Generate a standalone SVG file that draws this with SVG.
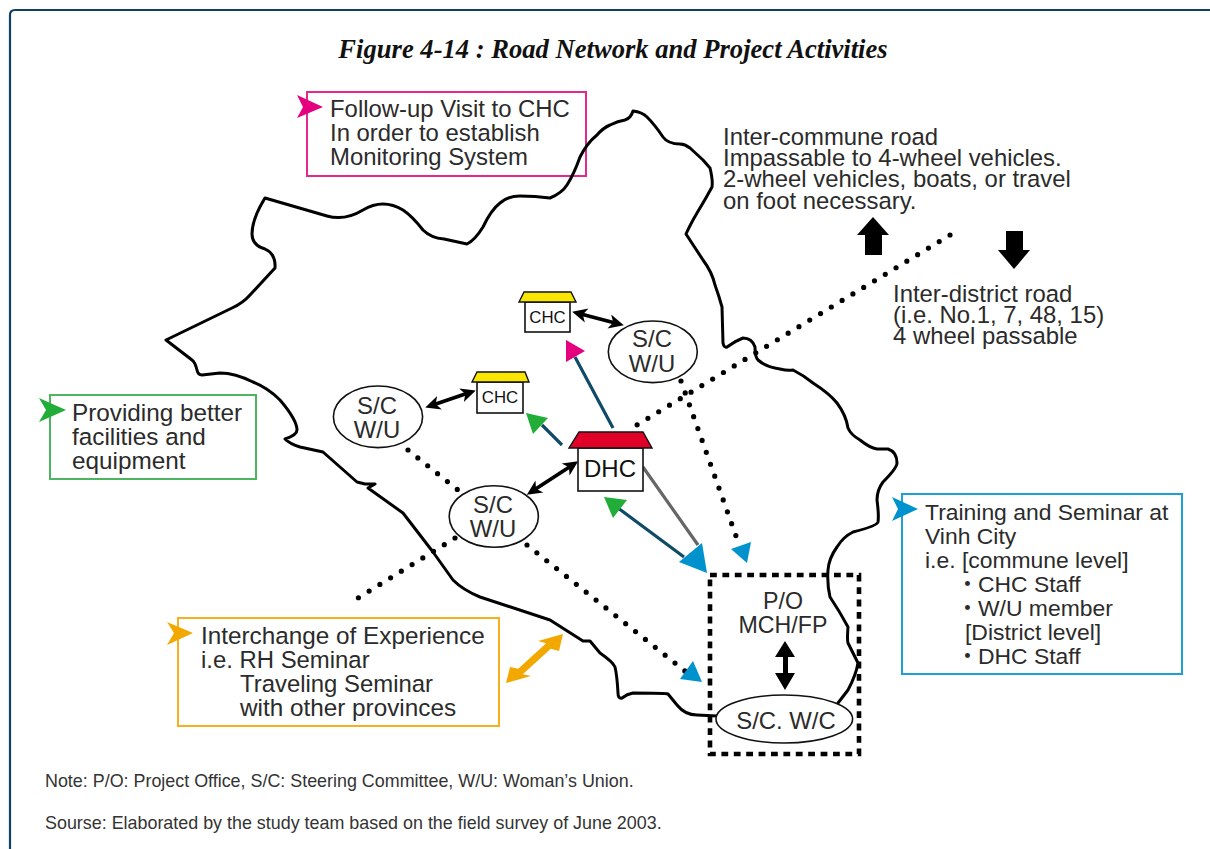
<svg xmlns="http://www.w3.org/2000/svg" width="1210" height="849" viewBox="0 0 1210 849">
<style>
text{font-family:"Liberation Sans","Noto Sans CJK JP",sans-serif;fill:#2b2b2b;font-size:23.9px}
.title{font-family:"Liberation Serif",serif;font-weight:bold;font-style:italic;font-size:26.6px;fill:#111;text-anchor:middle}
.note{font-size:17.9px;fill:#333}
.m{text-anchor:middle}
.small{font-size:16.8px;text-anchor:middle;fill:#111}
.big{font-size:24px;fill:#111}
.f23{font-size:22.9px}
.f24{font-size:24.3px}
.po{font-size:23.2px}
.box{fill:#fff;stroke-width:2}
.node{fill:#fff;stroke:#111;stroke-width:1.6}
.roof{stroke:#111;stroke-width:1.4}
.dots{fill:none;stroke:#000;stroke-width:5.2;stroke-linecap:round;stroke-dasharray:0 12.62}
.shaft{fill:none;stroke:#0f4a66;stroke-width:3.2}
.dbl{fill:none;stroke:#000;stroke-width:3.8;marker-start:url(#bi);marker-end:url(#bi)}
.boundary{fill:none;stroke:#000;stroke-width:3;stroke-linejoin:round;stroke-linecap:round}
</style>
<defs>
<marker id="bi" markerUnits="userSpaceOnUse" markerWidth="18" markerHeight="18" viewBox="0 -9 16 18" refX="10" refY="0" orient="auto-start-reverse"><path d="M15 0L0-7.2 4 0 0 7.2Z" fill="#000"/></marker>
</defs>
<rect width="1210" height="849" fill="#fff"/>
<path id="frame" d="M10 849V15Q10 10 15 10H1210" fill="none" stroke="#0f4060" stroke-width="2.2"/>
<text class="title" x="613" y="58">Figure 4-14 : Road Network and Project Activities</text>

<g id="box-followup">
<rect class="box" x="307" y="92" width="279" height="84" stroke="#e6278c"/>
<polygon points="323,107 297,95 303,107 297,118" fill="#e4007f"/>
<text x="330" y="117">Follow-up Visit to CHC</text>
<text x="330" y="141">In order to establish</text>
<text x="330" y="165">Monitoring System</text>
</g>
<g id="box-facilities">
<rect class="box" x="50" y="395" width="206" height="84" stroke="#4db560"/>
<polygon points="66,410 39,398 46,410 39,422" fill="#22ac38"/>
<text class="f24" x="72" y="421">Providing better</text>
<text class="f24" x="72" y="445">facilities and</text>
<text class="f24" x="72" y="469">equipment</text>
</g>
<g id="box-interchange">
<rect class="box" x="178" y="618" width="321" height="108" stroke="#f5b01f"/>
<polygon points="193,633 167,622 174,633 167,645" fill="#f3a800"/>
<text class="f24" x="201" y="644">Interchange of Experience</text>
<text x="201" y="668">i.e. RH Seminar</text>
<text x="240" y="692">Traveling Seminar</text>
<text class="f24" x="240" y="716">with other provinces</text>
</g>
<g id="box-training">
<rect class="box" x="902" y="494" width="280" height="180" stroke="#1ea0d5"/>
<polygon points="918,509 892,497 898,509 892,521" fill="#0092cc"/>
<text class="f23" x="925" y="520">Training and Seminar at</text>
<text class="f23" x="925" y="544">Vinh City</text>
<text class="f23" x="925" y="568">i.e. [commune level]</text>
<text class="f23" x="956" y="592">・<tspan x="978">CHC Staff</tspan></text>
<text class="f23" x="956" y="616">・<tspan x="978">W/U member</tspan></text>
<text class="f23" x="965" y="640">[District level]</text>
<text class="f23" x="956" y="664">・<tspan x="978">DHC Staff</tspan></text>
</g>

<path id="province" class="boundary" d="M166 340L232 308Q243 303 250 295L275 268Q276 254 265 249Q252 245 252 234Q252 219 265 198L327 216Q345 221 363 210Q383 198 403 210Q412 216 423 230Q431 238 444 239L467 244Q475 240 483 227Q491 210 500 203Q508 196 520 196Q535 196 550 198Q562 193 567 185Q574 174 580 157Q587 143 597 135Q603 128 610 125Q618 121 625 120Q631 118 633 111Q642 112 647 117Q655 125 663 137Q668 144 680 144Q685 144 690 148L703 160L710 168Q713 180 712 187Q705 200 697 213Q690 225 686 234L703 260Q712 272 715 285Q719 296 722 307L723 343Q724 348 727 347Q735 341 743 338Q752 338 755 347Q755 357 758 360Q766 367 780 369Q788 371 793 370Q803 375 813 383Q830 394 837 403Q846 415 848 428Q851 435 860 440Q870 448 877 449Q883 449 888 449Q897 452 897 463Q897 468 883 482Q877 490 877 500Q879 515 878 522Q877 526 853 532Q843 537 837 547Q829 558 828 570Q827 585 830 597Q840 612 848 627Q847 640 848 643L858 663Q856 675 848 690L838 703M717 716L697 715Q685 715 677 705L668 694Q665 693 633 693Q627 694 622 698Q618 699 618 693Q617 675 615 667Q613 662 600 653L590 641L583 641L550 620L480 597Q463 590 453 580L433 552L403 513L368 488L375 484L365 484L357 482L323 452L300 447Q290 444 285 439Q297 435 297 430Q297 420 280 400Q268 388 253 382Q235 373 220 373L202 375Q198 375 197 370Q195 362 192 360L166 340"/>

<g id="legend">
<text x="723" y="145">Inter-commune road</text>
<text x="723" y="166">Impassable to 4-wheel vehicles.</text>
<text x="723" y="187">2-wheel vehicles, boats, or travel</text>
<text x="723" y="209">on foot necessary.</text>
<text x="893" y="302">Inter-district road</text>
<text x="893" y="323">(i.e. No.1, 7, 48, 15)</text>
<text x="893" y="344">4 wheel passable</text>
<polygon points="873,217 889,235 882,235 882,255 865,255 865,235 857,235" fill="#000"/>
<polygon points="1014,269 1030,250 1023,250 1023,231 1006,231 1006,250 998,250" fill="#000"/>
</g>

<g id="connectors">
<path class="dots" d="M950 235L627 431"/>
<path class="dots" d="M681 381L736 536"/>
<path class="dots" d="M408 450L458 490"/>
<path class="dots" d="M527 545L685 671"/>
<path class="dots" d="M455 538L358 598"/>
<polygon points="751,542 731,549 747,563" fill="#0092cc"/>
<polygon points="693,661 702,682 680,679" fill="#0092cc"/>
<path d="M643 467L698 545" fill="none" stroke="#666" stroke-width="3.2"/>
<path class="shaft" d="M613 428L575 357"/>
<polygon points="566,340 585,351 566,362" fill="#e4007f"/>
<path class="shaft" d="M562 445L542 425"/>
<polygon points="526,413 548,418 533,434" fill="#22ac38"/>
<path class="shaft" d="M618 508L684 557"/>
<polygon points="604,497 627,500 613,518" fill="#22ac38"/>
<polygon points="702,543 707,573 679,562" fill="#0092cc"/>
<path class="dbl" d="M577 313L619 324"/>
<path class="dbl" d="M430 406L471 392"/>
<path class="dbl" d="M531 492L574 464"/>
<polygon points="785,641 795,657 788,657 788,673 795,673 785,690 775,673 783,673 783,657 775,657" fill="#000"/>
<polygon points="563,634 559,651 550.8,648.7 522.8,674.2 531,676 506,683 510,667 518.2,668.8 546.2,643.3 538,641" fill="#f3a800"/>
</g>

<g id="dhc">
<rect class="node" x="578" y="448" width="65" height="43"/>
<polygon class="roof" points="579,432 643,432 652,448 569,448" fill="#e00028"/>
<text class="m big" x="610" y="477">DHC</text>
</g>
<g id="chc-1">
<rect class="node" x="525" y="302" width="45" height="30"/>
<polygon class="roof" points="524,292 571,292 576,302 519,302" fill="#f8e500"/>
<text class="small" x="547.5" y="323">CHC</text>
</g>
<g id="chc-2">
<rect class="node" x="477" y="382" width="46" height="31"/>
<polygon class="roof" points="477,372 525,372 529,382 472,382" fill="#f8e500"/>
<text class="small" x="500" y="403">CHC</text>
</g>
<g id="sc-wu-1">
<ellipse class="node" cx="652.8" cy="351.8" rx="44.5" ry="30.8"/>
<text class="m" x="652" y="347">S/C</text><text class="m" x="652" y="372">W/U</text>
</g>
<g id="sc-wu-2">
<ellipse class="node" cx="378" cy="416.8" rx="44.6" ry="30.8"/>
<text class="m" x="377" y="414">S/C</text><text class="m" x="377" y="438">W/U</text>
</g>
<g id="sc-wu-3">
<ellipse class="node" cx="493.8" cy="516.5" rx="44.6" ry="30.8"/>
<text class="m" x="493" y="513">S/C</text><text class="m" x="493" y="537">W/U</text>
</g>
<g id="po-box">
<rect x="710" y="575" width="149" height="179" fill="none" stroke="#000" stroke-width="4.6" stroke-dasharray="6.8 5.6"/>
<text class="m po" x="783" y="609">P/O</text>
<text class="m po" x="783" y="633">MCH/FP</text>
</g>
<g id="sc-wc">
<ellipse class="node" cx="784.3" cy="719" rx="68.3" ry="24"/>
<text class="m" x="786" y="729">S/C. W/C</text>
</g>
<g id="notes">
<text class="note" x="45" y="787">Note: P/O: Project Office, S/C: Steering Committee, W/U: Woman’s Union.</text>
<text class="note" x="45" y="829">Sourse: Elaborated by the study team based on the field survey of June 2003.</text>
</g>
</svg>
